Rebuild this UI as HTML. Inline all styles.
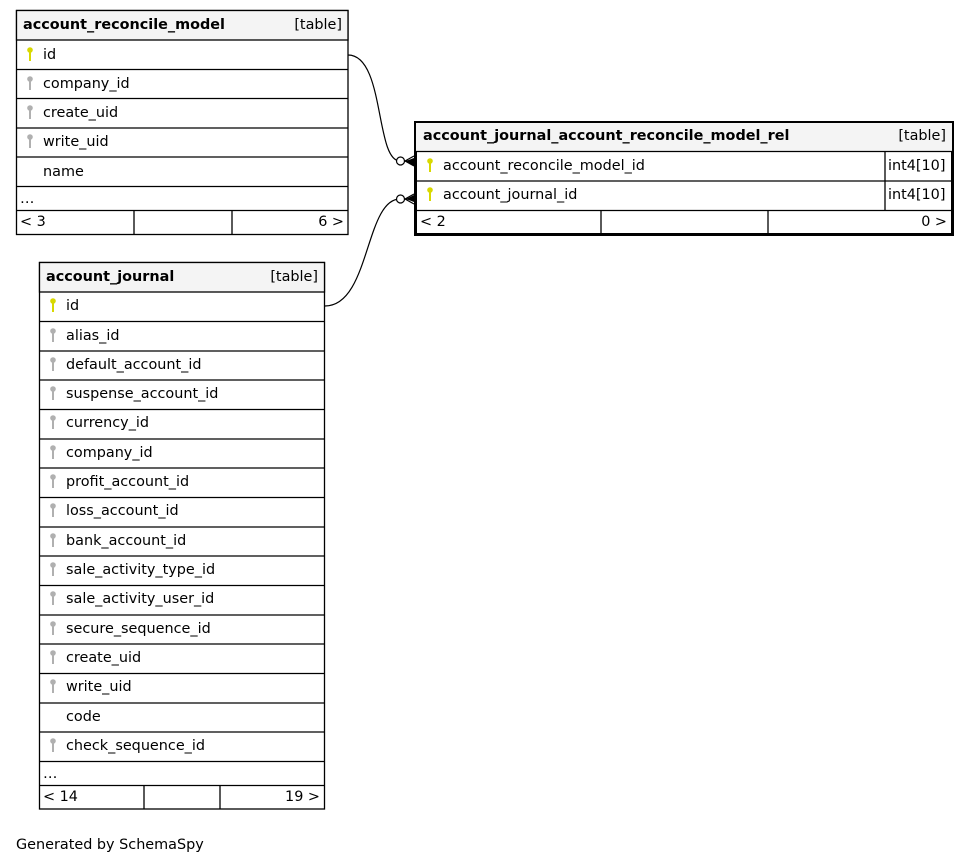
<!DOCTYPE html>
<html><head><meta charset="utf-8"><style>
html,body{margin:0;padding:0;background:#fff;}
svg{display:block;font-family:"DejaVu Sans","Liberation Sans",sans-serif;font-size:14.4px;}
.b{font-weight:bold;}
</style></head><body>
<svg width="971" height="864" viewBox="0 0 971 864" xmlns="http://www.w3.org/2000/svg">
<defs>
<g id="pk"><circle cx="0" cy="-3" r="2.8" fill="#d8d800"/><rect x="-1" y="-2" width="2" height="10" fill="#d8d800"/></g>
<g id="fk"><circle cx="0" cy="-3" r="2.8" fill="#b0b0b0"/><rect x="-1" y="-2" width="2" height="10" fill="#b0b0b0"/></g>
</defs>

<!-- Table 1 -->
<g stroke="#000" stroke-width="1.3" fill="none">
<rect x="16.5" y="10.5" width="331.5" height="224" fill="#fff"/>
<rect x="16.5" y="10.5" width="331.5" height="29.5" fill="#f4f4f4"/>
<line x1="16.5" y1="69.5" x2="348" y2="69.5"/>
<line x1="16.5" y1="98.5" x2="348" y2="98.5"/>
<line x1="16.5" y1="128" x2="348" y2="128"/>
<line x1="16.5" y1="157" x2="348" y2="157"/>
<line x1="16.5" y1="186.5" x2="348" y2="186.5"/>
<line x1="16.5" y1="210.5" x2="348" y2="210.5"/>
<line x1="134" y1="211" x2="134" y2="234"/>
<line x1="232" y1="211" x2="232" y2="234"/>
</g>
<text x="23" y="29" class="b">account_reconcile_model</text>
<text x="342" y="29" text-anchor="end">[table]</text>
<use href="#pk" x="30" y="53"/><text x="43" y="59">id</text>
<use href="#fk" x="30" y="82"/><text x="43" y="88">company_id</text>
<use href="#fk" x="30" y="111"/><text x="43" y="117">create_uid</text>
<use href="#fk" x="30" y="140"/><text x="43" y="146">write_uid</text>
<text x="43" y="176">name</text>
<text x="20" y="203">…</text>
<text x="20" y="226">&lt; 3</text>
<text x="344" y="226" text-anchor="end">6 &gt;</text>

<!-- Table 2 (rel) -->
<g stroke="#000" fill="none">
<rect x="415.5" y="122.5" width="537" height="112" fill="#fff" stroke-width="3"/>
<rect x="416" y="123" width="536" height="28" fill="#f4f4f4" stroke="none"/>
<line x1="415" y1="151.5" x2="953" y2="151.5" stroke-width="1.3"/>
<line x1="415" y1="181" x2="953" y2="181" stroke-width="1.3"/>
<line x1="415" y1="210.5" x2="953" y2="210.5" stroke-width="1.3"/>
<line x1="885" y1="151" x2="885" y2="210" stroke-width="1.3"/>
<line x1="601" y1="211" x2="601" y2="233" stroke-width="1.3"/>
<line x1="768" y1="211" x2="768" y2="233" stroke-width="1.3"/>
</g>
<text x="423" y="140" class="b">account_journal_account_reconcile_model_rel</text>
<text x="946" y="140" text-anchor="end">[table]</text>
<use href="#pk" x="430" y="164"/><text x="443" y="170">account_reconcile_model_id</text>
<text x="888" y="170">int4[10]</text>
<use href="#pk" x="430" y="193"/><text x="443" y="199">account_journal_id</text>
<text x="888" y="199">int4[10]</text>
<text x="420" y="226">&lt; 2</text>
<text x="947" y="226" text-anchor="end">0 &gt;</text>

<!-- Table 3 -->
<g stroke="#000" stroke-width="1.3" fill="none">
<rect x="39.5" y="262.5" width="285" height="546.5" fill="#fff"/>
<rect x="39.5" y="262.5" width="285" height="29.5" fill="#f4f4f4"/>
<line x1="39.5" y1="321.5" x2="325" y2="321.5"/>
<line x1="39.5" y1="351" x2="325" y2="351"/>
<line x1="39.5" y1="380" x2="325" y2="380"/>
<line x1="39.5" y1="409.5" x2="325" y2="409.5"/>
<line x1="39.5" y1="439" x2="325" y2="439"/>
<line x1="39.5" y1="468" x2="325" y2="468"/>
<line x1="39.5" y1="497.5" x2="325" y2="497.5"/>
<line x1="39.5" y1="527" x2="325" y2="527"/>
<line x1="39.5" y1="556" x2="325" y2="556"/>
<line x1="39.5" y1="585.5" x2="325" y2="585.5"/>
<line x1="39.5" y1="615" x2="325" y2="615"/>
<line x1="39.5" y1="644" x2="325" y2="644"/>
<line x1="39.5" y1="673.5" x2="325" y2="673.5"/>
<line x1="39.5" y1="703" x2="325" y2="703"/>
<line x1="39.5" y1="732" x2="325" y2="732"/>
<line x1="39.5" y1="761.5" x2="325" y2="761.5"/>
<line x1="39.5" y1="785.5" x2="325" y2="785.5"/>
<line x1="144" y1="786" x2="144" y2="809"/>
<line x1="220" y1="786" x2="220" y2="809"/>
</g>
<text x="46" y="281" class="b">account_journal</text>
<text x="318" y="281" text-anchor="end">[table]</text>
<use href="#pk" x="53" y="304"/><text x="66" y="310">id</text>
<use href="#fk" x="53" y="334"/><text x="66" y="340">alias_id</text>
<use href="#fk" x="53" y="363"/><text x="66" y="369">default_account_id</text>
<use href="#fk" x="53" y="392"/><text x="66" y="398">suspense_account_id</text>
<use href="#fk" x="53" y="421"/><text x="66" y="427">currency_id</text>
<use href="#fk" x="53" y="451"/><text x="66" y="457">company_id</text>
<use href="#fk" x="53" y="480"/><text x="66" y="486">profit_account_id</text>
<use href="#fk" x="53" y="509"/><text x="66" y="515">loss_account_id</text>
<use href="#fk" x="53" y="539"/><text x="66" y="545">bank_account_id</text>
<use href="#fk" x="53" y="568"/><text x="66" y="574">sale_activity_type_id</text>
<use href="#fk" x="53" y="597"/><text x="66" y="603">sale_activity_user_id</text>
<use href="#fk" x="53" y="627"/><text x="66" y="633">secure_sequence_id</text>
<use href="#fk" x="53" y="656"/><text x="66" y="662">create_uid</text>
<use href="#fk" x="53" y="685"/><text x="66" y="691">write_uid</text>
<text x="66" y="721">code</text>
<use href="#fk" x="53" y="744"/><text x="66" y="750">check_sequence_id</text>
<text x="43" y="778">…</text>
<text x="43" y="801">&lt; 14</text>
<text x="320" y="801" text-anchor="end">19 &gt;</text>

<!-- connectors -->
<g stroke="#000" stroke-width="1.2" fill="none">
<path d="M348,55 C385,55 375,161 400,161"/>
<path d="M325,306 C370,306 365,199 400,199"/>
<line x1="404" y1="161" x2="414" y2="161"/>
<line x1="404" y1="199" x2="414" y2="199"/>
<line x1="405" y1="161" x2="414" y2="156"/>
<line x1="405" y1="161" x2="414" y2="166"/>
<line x1="405" y1="199" x2="414" y2="194"/>
<line x1="405" y1="199" x2="414" y2="204"/>
<circle cx="400.5" cy="161" r="4" fill="#fff"/>
<circle cx="400.5" cy="199" r="4" fill="#fff"/>
</g>
<path d="M406,161 L414,158 L414,166 Z" fill="#000"/>
<path d="M406,199 L414,195 L414,202 Z" fill="#000"/>

<text x="16" y="849">Generated by SchemaSpy</text>
</svg>
</body></html>
